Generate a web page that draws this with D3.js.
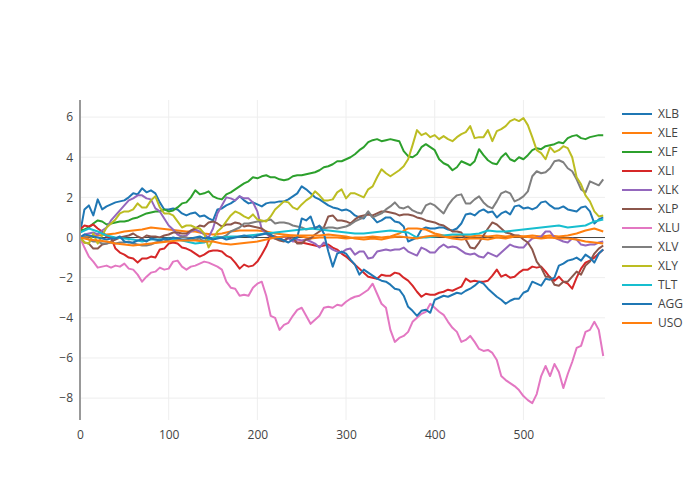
<!DOCTYPE html>
<html>
<head>
<meta charset="utf-8">
<script src="https://cdn.jsdelivr.net/npm/d3@7/dist/d3.min.js"></script>
<style>
  html, body { margin: 0; padding: 0; background: #fff; }
  svg { display: block; font-family: "Open Sans", "Noto Sans", sans-serif; }
</style>
</head>
<body>
<svg id="chart" width="700" height="500"></svg>
<script>
// sample positions (trading-day index)
const xsFine = d3.range(0, 595, 5);     // 0..590 step 5
const xsCoarse = d3.range(0, 600, 10);  // 0..590 step 10

const names = ["XLB","XLE","XLF","XLI","XLK","XLP","XLU","XLV","XLY","TLT","AGG","USO"];
const colors = ["#1f77b4","#ff7f0e","#2ca02c","#d62728","#9467bd","#8c564b","#e377c2","#7f7f7f","#bcbd22","#17becf","#1f77b4","#ff7f0e"];

// step 5 series
const XLB = [0.2,1.4,1.6,1.1,1.9,1.4,1.55,1.65,1.75,1.8,
  1.85,2.0,2.2,2.15,2.45,2.25,2.35,2.2,1.75,1.4,
  1.4,1.45,1.4,1.2,1.1,1.2,1.25,1.05,1.1,0.95,
  0.85,1.4,1.45,1.6,1.7,1.85,2.05,1.85,1.7,1.75,
  1.65,1.55,1.7,1.75,1.75,1.8,1.8,1.9,2.05,2.2,
  2.55,2.4,2.2,2.0,1.9,1.75,1.6,1.5,1.45,1.35,
  1.4,1.3,1.1,1.0,0.95,1.25,1.0,0.75,0.85,1.0,
  1.0,0.8,0.75,0.55,-0.2,-0.1,0.0,0.4,0.5,0.45,
  0.45,0.5,0.5,0.4,0.35,0.45,0.7,1.15,1.2,1.1,
  1.3,1.4,1.25,1.3,1.0,1.2,1.3,1.15,1.55,1.6,
  1.45,1.5,1.4,1.5,1.75,1.8,1.6,1.45,1.45,1.55,
  1.4,1.35,1.3,1.5,1.55,1.3,0.7,0.9,1.0];
const XLF = [0.35,0.4,0.5,0.7,0.85,0.8,0.65,0.7,0.75,0.8,
  0.8,0.85,0.95,1.0,1.1,1.2,1.25,1.3,1.3,1.4,
  1.3,1.35,1.5,1.7,1.75,2.0,2.35,2.15,2.2,2.3,
  2.05,1.95,1.9,2.15,2.25,2.4,2.55,2.7,2.8,3.0,
  2.95,3.05,3.1,3.0,3.0,2.9,2.85,2.9,3.05,3.1,
  3.1,3.15,3.2,3.25,3.35,3.5,3.55,3.65,3.8,3.8,
  3.9,4.0,4.15,4.35,4.5,4.75,4.85,4.9,4.8,4.85,
  4.9,4.85,4.8,4.3,4.05,4.0,4.15,4.5,4.65,4.5,
  4.35,3.9,3.7,3.6,3.35,3.5,3.8,3.7,3.6,3.8,
  4.4,4.1,3.85,3.7,3.65,4.0,4.2,3.9,3.8,4.0,
  3.9,4.1,4.35,4.45,4.4,4.55,4.6,4.65,4.75,4.7,
  4.95,5.05,5.1,4.95,4.9,5.0,5.05,5.1,5.1];
const XLI = [0.4,0.6,0.55,0.65,0.45,0.3,0.05,0.0,-0.55,-0.75,
  -0.85,-1.0,-1.05,-1.25,-1.05,-1.05,-0.95,-1.0,-0.6,-0.55,
  -0.3,-0.25,-0.3,-0.5,-0.55,-0.65,-0.8,-0.95,-0.85,-0.7,
  -0.65,-0.65,-0.7,-0.9,-1.0,-1.25,-1.55,-1.35,-1.45,-1.4,
  -1.2,-0.85,-0.45,0.1,0.05,-0.05,-0.15,0.0,-0.15,-0.25,
  -0.25,-0.3,-0.35,-0.4,-0.45,-0.4,-0.35,-0.5,-0.6,-0.8,
  -0.95,-1.15,-1.35,-1.55,-1.75,-1.95,-2.0,-2.05,-1.85,-1.9,
  -1.9,-1.75,-1.8,-2.0,-2.15,-2.4,-2.7,-2.95,-2.8,-2.85,
  -2.85,-2.75,-2.7,-2.6,-2.65,-2.55,-2.45,-2.05,-2.2,-2.15,
  -2.2,-2.2,-2.15,-1.9,-1.6,-1.95,-1.85,-2.0,-1.95,-1.75,
  -1.6,-1.6,-1.45,-1.5,-1.45,-1.7,-2.0,-2.15,-1.95,-2.2,
  -2.3,-2.55,-2.0,-1.55,-1.25,-1.15,-1.0,-0.8,-0.6];
const XLK = [0.0,0.15,0.2,0.25,0.15,0.35,0.5,0.85,1.1,1.35,
  1.6,1.85,1.95,2.1,2.1,1.95,1.9,1.45,1.3,0.95,
  0.6,0.4,0.15,0.05,0.1,0.3,0.4,0.3,0.15,0.0,
  0.45,1.2,1.6,2.0,1.95,1.85,2.05,1.95,1.95,1.75,
  1.3,0.4,0.2,0.0,-0.05,0.0,0.05,-0.05,-0.2,-0.1,
  -0.15,-0.1,-0.2,-0.3,-0.5,-0.25,-0.45,-0.6,-0.7,-0.75,
  -0.6,-0.55,-0.85,-0.7,-0.7,-1.05,-1.0,-0.7,-0.65,-0.6,
  -0.65,-0.6,-0.6,-0.5,-0.7,-0.8,-0.9,-0.5,-0.6,-0.75,
  -0.75,-0.5,-0.35,-0.5,-0.45,-0.5,-0.65,-0.8,-0.85,-0.8,
  -0.95,-1.0,-0.75,-0.85,-0.95,-0.75,-0.55,-0.35,-0.45,-0.5,
  -0.5,-0.25,-0.05,0.0,0.05,0.3,0.3,0.0,-0.1,-0.2,
  -0.25,-0.05,-0.1,-0.35,-0.4,-0.35,-0.35,-0.25,-0.2];
const XLP = [0.0,-0.25,-0.3,-0.55,-0.55,-0.35,-0.3,-0.2,-0.1,0.0,
  0.05,0.1,0.2,0.05,-0.05,0.1,0.05,0.05,0.0,0.1,
  0.15,0.25,0.25,0.2,0.2,0.35,0.45,0.6,0.55,0.75,
  0.8,0.7,0.55,0.65,0.65,0.75,0.7,0.55,0.6,0.55,
  0.5,0.45,0.3,0.05,-0.05,-0.15,-0.2,0.0,0.0,-0.3,
  -0.3,-0.1,-0.05,0.15,0.3,0.5,1.05,1.1,0.85,0.85,
  0.8,0.7,0.9,1.05,1.1,1.15,1.1,1.2,1.3,1.3,
  1.25,1.2,1.1,1.15,1.15,1.1,1.0,0.95,0.85,0.8,
  0.75,0.65,0.6,0.45,0.3,0.3,0.25,-0.1,-0.5,-0.55,
  -0.25,0.1,0.45,0.75,0.65,0.45,0.25,0.2,0.1,0.1,
  -0.1,-0.25,-0.6,-1.2,-1.5,-1.95,-1.95,-2.35,-2.4,-2.2,
  -2.2,-1.95,-1.7,-1.85,-1.4,-1.2,-0.8,-0.55,-0.4];
const XLU = [0.0,-0.5,-0.95,-1.2,-1.5,-1.45,-1.4,-1.5,-1.4,-1.45,
  -1.3,-1.55,-1.6,-1.85,-2.2,-1.95,-1.75,-1.7,-1.5,-1.6,
  -1.55,-1.2,-1.15,-1.45,-1.6,-1.45,-1.4,-1.3,-1.2,-1.25,
  -1.35,-1.45,-1.6,-2.2,-2.5,-2.55,-2.9,-2.85,-2.9,-2.5,
  -2.3,-2.2,-2.9,-3.9,-4.0,-4.6,-4.35,-4.25,-3.9,-3.6,
  -3.5,-3.9,-4.3,-4.1,-3.9,-3.5,-3.45,-3.5,-3.35,-3.4,
  -3.2,-3.05,-2.95,-2.9,-2.75,-2.6,-2.3,-2.8,-3.3,-3.5,
  -4.6,-5.2,-5.0,-4.9,-4.7,-4.2,-4.0,-3.8,-3.7,-3.3,
  -3.5,-3.7,-3.85,-4.2,-4.5,-4.7,-5.2,-5.1,-4.9,-5.2,
  -5.55,-5.65,-5.6,-5.75,-6.1,-6.9,-7.1,-7.25,-7.4,-7.6,
  -7.9,-8.1,-8.25,-7.8,-6.9,-6.4,-6.9,-6.3,-6.7,-7.5,
  -6.8,-6.2,-5.5,-5.4,-4.7,-4.6,-4.2,-4.6,-5.9];
const XLV = [0.0,0.05,-0.1,-0.2,-0.2,-0.3,-0.3,-0.25,-0.3,-0.25,
  -0.25,-0.2,-0.3,-0.35,-0.4,-0.4,-0.35,-0.25,-0.2,-0.2,
  -0.1,-0.05,-0.05,0.05,0.0,-0.05,-0.1,-0.05,-0.2,-0.05,
  -0.1,0.05,0.0,0.1,0.3,0.4,0.5,0.7,0.7,0.75,
  0.8,0.8,0.85,0.9,0.7,0.75,0.75,0.7,0.6,0.55,
  0.5,0.4,0.45,0.5,0.55,0.45,0.5,0.5,0.45,0.5,
  0.55,0.65,0.8,0.9,1.0,1.3,1.0,1.1,1.2,1.4,
  1.55,1.75,1.5,1.45,1.55,1.35,1.25,1.2,1.6,1.7,
  1.6,1.4,1.2,1.6,1.9,2.1,2.15,1.7,1.7,1.9,
  2.05,1.75,1.55,1.45,1.8,2.2,2.3,2.2,1.8,1.9,
  2.05,2.3,3.05,3.3,3.2,3.25,3.45,3.8,3.85,3.75,
  3.45,3.3,2.9,2.4,2.25,2.8,2.7,2.6,2.9];
const XLY = [0.0,-0.25,-0.3,0.2,-0.3,0.1,0.5,0.7,0.9,1.2,
  1.3,1.3,1.4,1.7,1.5,1.5,1.85,2.05,1.5,1.2,
  1.2,1.1,0.8,0.5,0.6,0.6,0.5,0.45,0.2,-0.5,
  -0.1,0.3,0.5,0.8,1.1,1.3,1.2,1.05,0.95,1.15,
  0.9,0.85,0.8,1.05,1.4,1.6,1.8,1.75,1.5,1.4,
  1.65,1.85,2.0,2.3,2.1,1.85,1.85,1.9,2.25,2.4,
  1.95,2.2,2.2,2.1,2.0,2.4,2.55,3.0,3.4,3.2,
  3.05,3.2,3.35,3.55,3.9,4.6,5.35,5.1,5.2,5.0,
  5.1,4.9,5.05,4.9,4.8,5.0,5.15,5.25,5.55,4.95,
  5.0,5.0,5.35,4.8,5.3,5.4,5.55,5.8,5.9,5.8,
  5.95,5.6,5.0,4.35,4.2,3.9,4.5,4.25,4.35,4.55,
  4.45,4.0,3.0,2.65,2.1,1.8,1.3,1.05,1.1];
const AGG = [0.0,0.15,0.1,0.05,0.0,-0.05,-0.1,-0.05,-0.05,0.05,
  -0.2,-0.25,-0.25,-0.15,-0.1,-0.2,-0.05,-0.1,-0.15,-0.05,
  -0.1,0.0,-0.05,-0.1,-0.1,-0.05,0.0,0.05,-0.05,0.0,
  -0.1,-0.05,0.0,-0.1,-0.05,0.0,0.05,0.1,0.05,0.0,
  0.1,0.15,0.2,0.15,0.0,-0.05,-0.15,-0.25,-0.1,0.0,
  0.95,0.85,1.05,0.45,0.6,0.2,-0.7,-1.45,-0.8,-0.7,
  -0.8,-1.1,-1.35,-1.85,-1.6,-1.75,-1.9,-2.05,-2.15,-2.2,
  -2.35,-2.55,-2.6,-2.9,-3.45,-3.65,-3.9,-3.65,-3.6,-3.75,
  -3.1,-3.0,-2.9,-2.95,-2.85,-2.75,-2.8,-2.65,-2.55,-2.4,
  -2.2,-2.3,-2.55,-2.75,-2.95,-3.1,-3.3,-3.15,-3.05,-3.05,
  -2.75,-2.65,-2.2,-2.3,-2.4,-2.05,-2.1,-2.0,-1.4,-1.3,
  -1.15,-1.1,-1.0,-1.15,-0.85,-1.0,-1.25,-0.8,-0.6];

// step 10 series
const XLE = [0.0,0.05,0.1,0.15,0.2,0.3,0.35,0.4,0.5,0.45,0.4,0.35,0.3,0.3,0.2,0.15,0.2,0.3,0.35,0.35,0.35,0.3,0.2,0.15,0.1,0.05,-0.05,0.0,0.0,0.0,-0.05,0.0,0.0,0.05,0.0,0.05,0.2,0.45,0.45,0.4,0.2,0.1,0.05,0.1,0.05,0.1,0.05,0.1,0.05,0.1,0.05,0.1,0.05,0.1,0.05,0.1,0.2,0.35,0.45,0.3];
const TLT = [0.25,0.45,0.3,0.1,0.0,-0.05,-0.1,-0.2,-0.1,-0.1,-0.05,-0.1,-0.2,-0.3,-0.25,0.0,0.0,0.05,0.05,0.1,0.15,0.2,0.25,0.3,0.35,0.4,0.45,0.4,0.35,0.3,0.25,0.2,0.2,0.25,0.3,0.35,0.3,0.25,0.0,0.0,0.05,0.1,0.15,0.15,0.15,0.2,0.35,0.3,0.3,0.35,0.4,0.45,0.5,0.55,0.6,0.5,0.55,0.6,0.8,0.9];
const USO = [0.0,-0.1,-0.15,-0.2,-0.3,-0.35,-0.4,-0.35,-0.3,-0.25,-0.2,-0.15,-0.15,-0.15,-0.2,-0.2,-0.3,-0.35,-0.3,-0.25,-0.2,-0.1,0.0,0.05,0.1,0.1,0.1,0.1,0.15,0.1,0.05,-0.05,-0.1,-0.05,-0.1,0.0,0.05,0.0,-0.05,0.05,0.1,0.05,-0.05,-0.1,-0.05,-0.05,-0.1,0.0,-0.05,0.05,0.05,0.0,-0.05,0.0,-0.05,-0.05,-0.1,-0.2,-0.25,-0.3];

const xTicks = [0, 100, 200, 300, 400, 500];
const yTicks = [-8, -6, -4, -2, 0, 2, 4, 6];

const seriesValues = [XLB, XLE, XLF, XLI, XLK, XLP, XLU, XLV, XLY, TLT, AGG, USO];
const series = names.map((n, i) => {
  const vals = seriesValues[i];
  const xsUse = vals.length === xsFine.length ? xsFine : xsCoarse;
  return { name: n, color: colors[i], points: vals.map((v, j) => ({ x: xsUse[j], y: v })) };
});

const svg = d3.select("#chart");
const margin = { left: 80, top: 100, right: 95, bottom: 80 };
const W = 700, H = 500;

const x = d3.scaleLinear().domain([0, 592]).range([margin.left, W - margin.right]);
const y = d3.scaleLinear().domain([-9.09, 6.85]).range([H - margin.bottom, margin.top]);

// grid
const grid = svg.append("g");
grid.selectAll("line.vx").data(xTicks.filter(t => t !== 0)).enter().append("line")
  .attr("x1", d => x(d)).attr("x2", d => x(d))
  .attr("y1", margin.top).attr("y2", H - margin.bottom)
  .attr("stroke", "#eee").attr("stroke-width", 1);
grid.selectAll("line.hy").data(yTicks.filter(t => t !== 0)).enter().append("line")
  .attr("x1", margin.left).attr("x2", W - margin.right)
  .attr("y1", d => y(d)).attr("y2", d => y(d))
  .attr("stroke", "#eee").attr("stroke-width", 1);

// axes
const xAxis = d3.axisBottom(x).tickValues(xTicks).tickSize(0).tickPadding(10);
const gx = svg.append("g").attr("transform", `translate(0,${H - margin.bottom})`).call(xAxis);
gx.select(".domain").remove();
gx.selectAll("text").attr("fill", "#444").style("font-size", "12px").style("font-family", '"Open Sans", sans-serif');

const yAxis = d3.axisLeft(y).tickValues(yTicks).tickSize(0).tickPadding(7)
  .tickFormat(d => d < 0 ? "\u2212" + Math.abs(d) : d);
const gy = svg.append("g").attr("transform", `translate(${margin.left},0)`).call(yAxis);
gy.select(".domain").remove();
gy.selectAll("text").attr("fill", "#444").style("font-size", "12px").style("font-family", '"Open Sans", sans-serif');

// clip
svg.append("clipPath").attr("id", "clip").append("rect")
  .attr("x", margin.left).attr("y", margin.top)
  .attr("width", W - margin.left - margin.right).attr("height", H - margin.top - margin.bottom);

const line = d3.line().x(d => x(d.x)).y(d => y(d.y));
const lines = svg.append("g").attr("clip-path", "url(#clip)");

// zero line
lines.append("line")
  .attr("x1", margin.left).attr("x2", W - margin.right)
  .attr("y1", y(0)).attr("y2", y(0))
  .attr("stroke", "#444").attr("stroke-width", 1);

lines.selectAll("path.series").data(series).enter().append("path")
  .attr("class", "series")
  .attr("d", d => line(d.points))
  .attr("fill", "none")
  .attr("stroke", d => d.color)
  .attr("stroke-width", 2)
  .attr("stroke-linejoin", "round");

// y axis line
svg.append("line")
  .attr("x1", margin.left).attr("x2", margin.left)
  .attr("y1", margin.top).attr("y2", H - margin.bottom)
  .attr("stroke", "#999").attr("stroke-width", 2);

// legend
const legend = svg.append("g").attr("transform", "translate(622,114)");
const item = legend.selectAll("g").data(series).enter().append("g")
  .attr("transform", (d, i) => `translate(0,${i * 19})`);
item.append("line").attr("x1", 0).attr("x2", 30).attr("y1", 0).attr("y2", 0)
  .attr("stroke", d => d.color).attr("stroke-width", 2);
item.append("text").attr("x", 36).attr("y", 0).attr("dy", "0.35em")
  .attr("fill", "#444").style("font-size", "12px").style("font-family", '"Open Sans", sans-serif')
  .text(d => d.name);
</script>
</body>
</html>
